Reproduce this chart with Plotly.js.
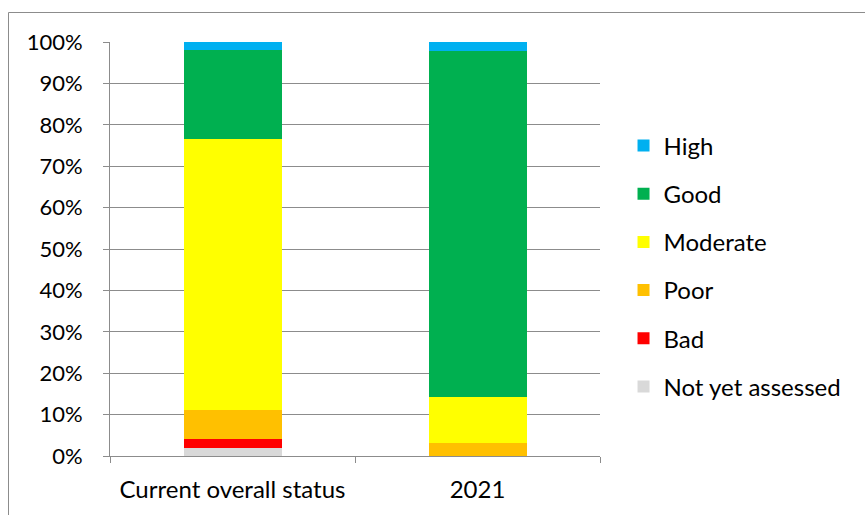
<!DOCTYPE html>
<html>
<head>
<meta charset="utf-8">
<script src="https://cdn.plot.ly/plotly-3.0.1.min.js"></script>
<style>
html,body{margin:0;padding:0;background:#fff;}
#chart{width:865px;height:515px;}
</style>
</head>
<body>
<div id="chart"></div>
<script>
const categories = ["Current overall status", "2021"];
const seriesNames = ["Not yet assessed", "Bad", "Poor", "Moderate", "Good", "High"];
const notYetAssessed = [1.9, 0];
const bad = [2.1, 0];
const poor = [7.1, 3.1];
const moderate = [65.4, 11.2];
const good = [21.5, 83.6];
const high = [2.0, 2.1];
const colors = ["#D9D9D9", "#FF0000", "#FFC000", "#FFFF00", "#00B050", "#00B0F0"];
const yTickVals = [0,10,20,30,40,50,60,70,80,90,100];
const yTickText = ["0%","10%","20%","30%","40%","50%","60%","70%","80%","90%","100%"];

const values = [notYetAssessed, bad, poor, moderate, good, high];
const FONT = "Lato, 'Open Sans', sans-serif";

const traces = seriesNames.map((name, i) => ({
  type: "bar",
  name: name,
  x: categories,
  y: values[i],
  marker: {color: colors[i], line: {width: 0}},
  legendgroup: "g" + i,
  legendrank: seriesNames.length - i,
  hoverinfo: "name+y"
}));

const layout = {
  width: 865,
  height: 515,
  margin: {l: 110, r: 265, t: 42, b: 59},
  barmode: "stack",
  bargap: 0.6,
  paper_bgcolor: "#ffffff",
  plot_bgcolor: "#ffffff",
  font: {family: FONT, size: 23, color: "#000"},
  showlegend: true,
  legend: {
    x: 1.048, xanchor: "left",
    y: 0.458, yanchor: "middle",
    traceorder: "grouped",
    tracegroupgap: 14,
    font: {family: FONT, size: 24, color: "#000"},
    itemwidth: 30,
    bgcolor: "rgba(0,0,0,0)"
  },
  xaxis: {
    type: "category",
    showgrid: false,
    showline: true,
    linecolor: "#8c8c8c",
    linewidth: 1,
    ticks: "outside",
    tickson: "boundaries",
    ticklen: 6,
    tickcolor: "#8c8c8c",
    tickfont: {family: FONT, size: 24, color: "#000"},
    ticklabelstandoff: 12,
    zeroline: false,
    fixedrange: true
  },
  yaxis: {
    range: [0, 100],
    tickvals: yTickVals,
    ticktext: yTickText,
    showgrid: true,
    gridcolor: "#8c8c8c",
    gridwidth: 1,
    showline: true,
    linecolor: "#8c8c8c",
    linewidth: 1,
    ticks: "outside",
    ticklen: 6,
    tickcolor: "#8c8c8c",
    tickfont: {family: FONT, size: 22, color: "#000"},
    ticklabelstandoff: 16,
    zeroline: false,
    fixedrange: true
  },
  shapes: [{
    type: "rect",
    xref: "paper", yref: "paper",
    x0: (8.5 - 110) / 490, x1: (870 - 110) / 490,
    y0: (456 - 520) / 414, y1: (456 - 12.5) / 414,
    line: {color: "#8c8c8c", width: 1},
    fillcolor: "rgba(0,0,0,0)",
    layer: "below"
  }]
};

Plotly.newPlot("chart", traces, layout, {displayModeBar: false, staticPlot: true});
</script>
</body>
</html>
